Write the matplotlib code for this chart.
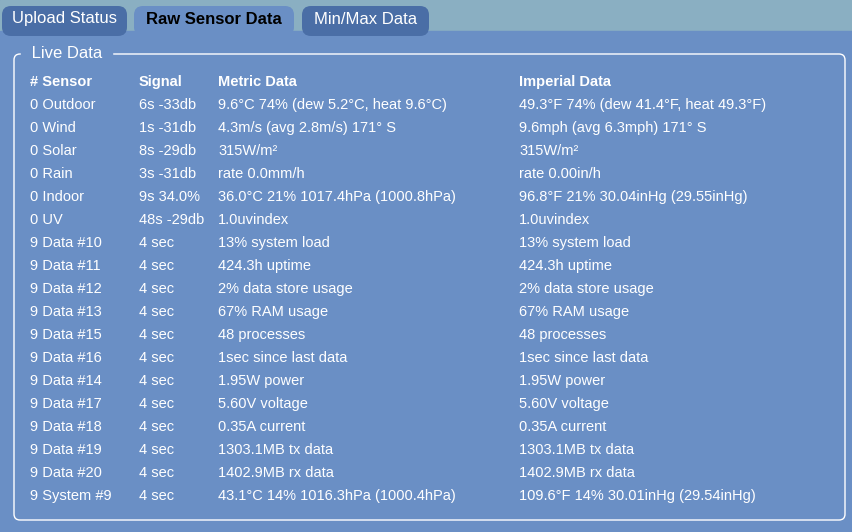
import matplotlib.pyplot as plt
from matplotlib.patches import FancyBboxPatch, Rectangle

sensors = ["0 Outdoor", "0 Wind", "0 Solar", "0 Rain", "0 Indoor", "0 UV",
           "9 Data #10", "9 Data #11", "9 Data #12", "9 Data #13", "9 Data #15",
           "9 Data #16", "9 Data #14", "9 Data #17", "9 Data #18", "9 Data #19",
           "9 Data #20", "9 System #9"]
signal = ["6s -33db", "1s -31db", "8s -29db", "3s -31db", "9s 34.0%", "48s -29db"] + ["4 sec"] * 12
metric = ["9.6°C 74% (dew 5.2°C, heat 9.6°C)", "4.3m/s (avg 2.8m/s) 171° S", "315W/m²",
          "rate 0.0mm/h", "36.0°C 21% 1017.4hPa (1000.8hPa)", "1.0uvindex",
          "13% system load", "424.3h uptime", "2% data store usage", "67% RAM usage",
          "48 processes", "1sec since last data", "1.95W power", "5.60V voltage",
          "0.35A current", "1303.1MB tx data", "1402.9MB rx data",
          "43.1°C 14% 1016.3hPa (1000.4hPa)"]
imperial = ["49.3°F 74% (dew 41.4°F, heat 49.3°F)", "9.6mph (avg 6.3mph) 171° S", "315W/m²",
            "rate 0.00in/h", "96.8°F 21% 30.04inHg (29.55inHg)", "1.0uvindex",
            "13% system load", "424.3h uptime", "2% data store usage", "67% RAM usage",
            "48 processes", "1sec since last data", "1.95W power", "5.60V voltage",
            "0.35A current", "1303.1MB tx data", "1402.9MB rx data",
            "109.6°F 14% 30.01inHg (29.54inHg)"]
headers = ["# Sensor", "Signal", "Metric Data", "Imperial Data"]
tabs = ["Upload Status", "Raw Sensor Data", "Min/Max Data"]

W, H = 853, 532
PANEL = "#6a8fc5"
fig = plt.figure(figsize=(W / 100, H / 100), dpi=100)
ax = fig.add_axes([0, 0, 1, 1])
ax.set_xlim(0, W)
ax.set_ylim(H, 0)
ax.axis("off")
fig.patch.set_facecolor(PANEL)

plt.rcParams["font.family"] = "Liberation Sans"

# top strip and tabs
ax.add_patch(Rectangle((0, 0), W, 31, color="#8aafc2", zorder=0))
tab_x = [(2, 127), (134, 294), (302, 429)]
for i, (name, (x0, x1)) in enumerate(zip(tabs, tab_x)):
    active = i == 1
    ax.add_patch(FancyBboxPatch((x0, 6), x1 - x0, 30,
                                boxstyle="round,pad=0,rounding_size=9",
                                fc=PANEL if active else "#4a6ea6", ec="none", zorder=1))
    ax.text((x0 + x1) / 2, 19, name, ha="center", va="center", fontsize=12,
            color="black" if active else "white", fontweight="bold" if active else "normal", zorder=2)
ax.add_patch(Rectangle((0, 31), W, H - 31, color=PANEL, zorder=0.5))

# fieldset
ax.add_patch(FancyBboxPatch((14, 54), 831, 466, boxstyle="round,pad=0,rounding_size=6",
                            fc="none", ec="white", lw=1, zorder=2))
ax.text(27, 53, " Live Data ", ha="left", va="center", fontsize=12, color="white",
        backgroundcolor=PANEL, zorder=3)

cols = [30, 139, 218, 519]
for x, h in zip(cols, headers):
    ax.text(x, 82, h, ha="left", va="center", fontsize=10.5, color="white", fontweight="bold")
for r in range(len(sensors)):
    y = 105 + 23 * r
    for x, v in zip(cols, [sensors[r], signal[r], metric[r], imperial[r]]):
        ax.text(x, y, v, ha="left", va="center", fontsize=10.5, color="white")

fig.savefig("out.png", dpi=100, facecolor=fig.get_facecolor())
